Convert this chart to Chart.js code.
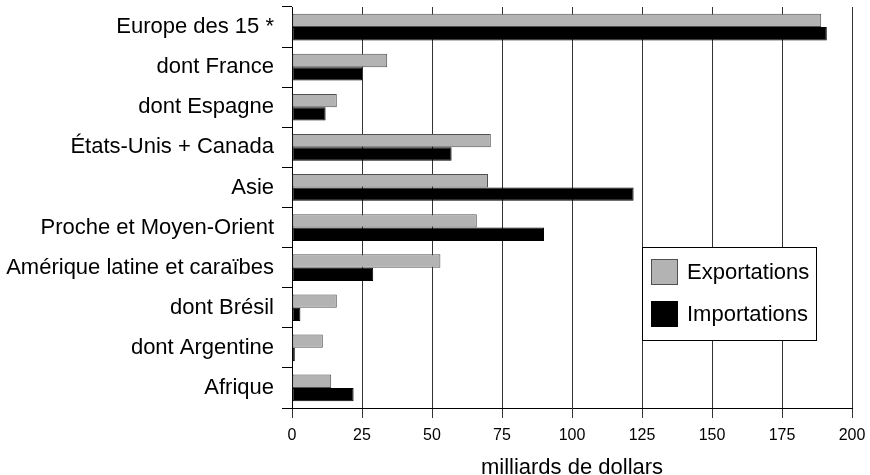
<!DOCTYPE html>
<html lang="fr">
<head>
<meta charset="utf-8">
<title>Exportations et importations</title>
<script src="https://cdn.jsdelivr.net/npm/chart.js@4/dist/chart.umd.min.js"></script>
<style>
    html, body { margin: 0; padding: 0; background: #fff; }
    #myChart { display: block; }
</style>
</head>
<body>
<canvas id="myChart" width="870" height="475"></canvas>
<script>
    const labels = [
        'Europe des 15 *',
        'dont France',
        'dont Espagne',
        'États-Unis + Canada',
        'Asie',
        'Proche et Moyen-Orient',
        'Amérique latine et caraïbes',
        'dont Brésil',
        'dont Argentine',
        'Afrique',
    ];
    const exportations = [189, 34, 16, 71, 70, 66, 53, 16, 11, 14];
    const importations = [191, 25, 12, 57, 122, 90, 29, 3, 1, 22];
    const xTicks = [0, 25, 50, 75, 100, 125, 150, 175, 200];

    const police = "'Liberation Sans', Arial, Helvetica, sans-serif";

    const data = {
        labels: labels,
        datasets: [
            {
                label: 'Exportations',
                data: exportations,
                backgroundColor: 'rgb(179, 179, 179)',
                borderColor: 'rgb(80, 80, 80)',
                borderWidth: 1,
                borderSkipped: false
            },
            {
                label: 'Importations',
                data: importations,
                backgroundColor: 'rgb(0, 0, 0)',
                borderColor: 'rgb(0, 0, 0)',
                borderWidth: 1,
                borderSkipped: false
            }
        ]
    };

    // legende dessinee dans la zone du graphique
    const legendeBoite = {
        id: 'legendeBoite',
        afterDraw(chart) {
            const ctx = chart.ctx;
            const area = chart.chartArea;
            const x = area.right - 210;
            const y = area.top + 240;
            ctx.save();
            ctx.fillStyle = '#fff';
            ctx.fillRect(x, y, 174, 93);
            ctx.strokeStyle = '#000';
            ctx.lineWidth = 1;
            ctx.strokeRect(x + 0.5, y + 0.5, 174, 93);
            ctx.font = '22px ' + police;
            ctx.textBaseline = 'middle';
            chart.data.datasets.forEach(function (ds, i) {
                const sy = y + 12 + i * 42;
                ctx.fillStyle = ds.backgroundColor;
                ctx.fillRect(x + 9, sy, 27, 26);
                ctx.strokeStyle = ds.borderColor;
                ctx.strokeRect(x + 9.5, sy + 0.5, 26, 25);
                ctx.fillStyle = '#000';
                ctx.fillText(ds.label, x + 45, sy + 14);
            });
            ctx.restore();
        }
    };

    const config = {
        type: 'bar',
        data: data,
        options: {
            indexAxis: 'y',
            responsive: false,
            animation: false,
            categoryPercentage: 0.665,
            barPercentage: 1.0,
            layout: {
                padding: { top: 7, right: 18, bottom: 0, left: 0 }
            },
            plugins: {
                legend: { display: false },
                tooltip: { enabled: false }
            },
            scales: {
                x: {
                    min: 0,
                    max: 200,
                    afterBuildTicks: function (scale) {
                        scale.ticks = xTicks.map(function (v) { return { value: v }; });
                    },
                    afterFit: function (scale) {
                        scale.height = 67;
                        scale.paddingLeft = 0;
                        scale.paddingRight = 0;
                    },
                    grid: {
                        color: '#333',
                        lineWidth: 1,
                        tickLength: 10,
                        drawTicks: true
                    },
                    border: { display: true, color: '#000', width: 1 },
                    ticks: {
                        color: '#000',
                        padding: 8,
                        font: { family: police, size: 16 }
                    },
                    title: {
                        display: true,
                        text: 'milliards de dollars',
                        color: '#000',
                        padding: { top: 0, bottom: 0 },
                        font: { family: police, size: 22, lineHeight: 0.6 }
                    }
                },
                y: {
                    afterFit: function (scale) {
                        scale.width = 292;
                        scale.paddingTop = 0;
                        scale.paddingBottom = 0;
                    },
                    grid: {
                        drawOnChartArea: false,
                        drawTicks: true,
                        tickLength: 10,
                        color: '#000',
                        offset: true
                    },
                    border: { display: true, color: '#000', width: 1 },
                    ticks: {
                        color: '#000',
                        padding: 8,
                        font: { family: police, size: 22 }
                    }
                }
            }
        },
        plugins: [legendeBoite]
    };

    const myChart = new Chart(
        document.getElementById('myChart'),
        config
    );
</script>
</body>
</html>
